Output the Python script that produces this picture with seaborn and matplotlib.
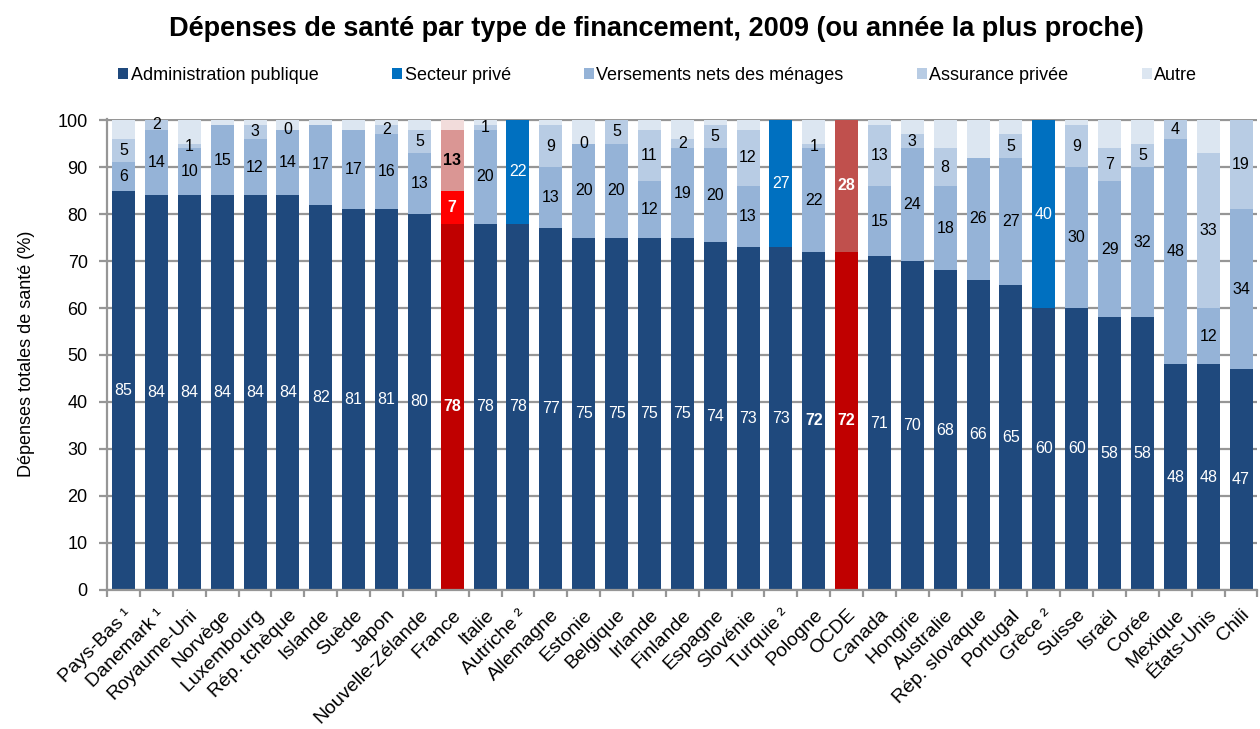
import numpy as np
import pandas as pd
import matplotlib
matplotlib.use("Agg")
import matplotlib.pyplot as plt
import seaborn as sns
from matplotlib.patches import Patch

n = np.nan
countries = ["Pays-Bas ¹", "Danemark ¹", "Royaume-Uni", "Norvège", "Luxembourg",
             "Rép. tchèque", "Islande", "Suède", "Japon", "Nouvelle-Zélande",
             "France", "Italie", "Autriche ²", "Allemagne", "Estonie", "Belgique",
             "Irlande", "Finlande", "Espagne", "Slovénie", "Turquie ²", "Pologne",
             "OCDE", "Canada", "Hongrie", "Australie", "Rép. slovaque", "Portugal",
             "Grèce ²", "Suisse", "Israël", "Corée", "Mexique", "États-Unis", "Chili"]

public = [85, 84, 84, 84, 84, 84, 82, 81, 81, 80, 78, 78, 78, 77, 75, 75, 75, 75,
          74, 73, 73, 72, 72, 71, 70, 68, 66, 65, 60, 60, 58, 58, 48, 48, 47]
private = [n, n, n, n, n, n, n, n, n, n, n, n, 22, n, n, n, n, n,
           n, n, 27, n, 28, n, n, n, n, n, 40, n, n, n, n, n, n]
households = [6, 14, 10, 15, 12, 14, 17, 17, 16, 13, 7, 20, n, 13, 20, 20, 12, 19,
              20, 13, n, 22, n, 15, 24, 18, 26, 27, n, 30, 29, 32, 48, 12, 34]
insurance = [5, 2, 1, n, 3, 0, n, n, 2, 5, 13, 1, n, 9, 0, 5, 11, 2,
             5, 12, n, 1, n, 13, 3, 8, n, 5, n, 9, 7, 5, 4, 33, 19]
other = [4, 0, 5, 1, 1, 2, 1, 2, 1, 2, 2, 1, 0, 1, 5, 0, 2, 4,
         1, 2, 0, 5, 0, 1, 3, 6, 8, 3, 0, 1, 6, 5, 0, 7, 0]

series_names = ["Administration publique", "Secteur privé",
                "Versements nets des ménages", "Assurance privée", "Autre"]
series_colors = ["#1F497D", "#0070C0", "#95B3D7", "#B8CCE4", "#DCE6F1"]
label_colors = ["white", "white", "black", "black", None]
france_colors = ["#C00000", "#C00000", "#FF0000", "#DA9694", "#F2DCDB"]
ocde_colors = ["#C00000", "#C0504D", "#FF0000", "#DA9694", "#F2DCDB"]

df = pd.DataFrame({"pays": countries, "public": public, "private": private,
                   "households": households, "insurance": insurance, "other": other})
layers = ["public", "private", "households", "insurance", "other"]

sns.set_style("white")
plt.rcParams["font.family"] = ["Liberation Sans", "DejaVu Sans"]
plt.rcParams["text.color"] = "black"
plt.rcParams["axes.labelcolor"] = "black"
plt.rcParams["xtick.color"] = "black"
plt.rcParams["ytick.color"] = "black"

fig = plt.figure(figsize=(12.6, 7.29), dpi=100)
ax = fig.add_axes([0.085, 0.191, 0.913, 0.646])

i_fr = countries.index("France")
i_oc = countries.index("OCDE")
i_pl = countries.index("Pologne")

bottom = np.zeros(len(countries))
for k, col in enumerate(layers):
    vals = df[col].to_numpy(dtype=float)
    h = np.nan_to_num(vals)
    sns.barplot(x=df["pays"], y=h, bottom=bottom, color=series_colors[k],
                width=0.7, errorbar=None, linewidth=0, edgecolor="none",
                saturation=1, ax=ax, zorder=2)
    cont = ax.containers[-1]
    cont.patches[i_fr].set_facecolor(france_colors[k])
    cont.patches[i_oc].set_facecolor(ocde_colors[k])
    if label_colors[k] is not None:
        for i, v in enumerate(vals):
            if np.isnan(v):
                continue
            c = label_colors[k]
            bold = False
            if i in (i_fr, i_oc):
                bold = True
                c = "white" if k < 3 else "black"
            if i == i_pl and k == 0:
                bold = True
            ax.text(i, bottom[i] + h[i] / 2, f"{v:.0f}", ha="center", va="center",
                    fontsize=11.5, color=c, fontweight="bold" if bold else "normal",
                    zorder=3)
    bottom = bottom + h

ax.set_xlim(-0.5, len(countries) - 0.5)
ax.set_ylim(0, 100.3)
ax.set_yticks(np.arange(0, 101, 10))
ax.yaxis.grid(True, color="#969696", linewidth=1.6)
ax.set_axisbelow(True)
for s in ["top", "right"]:
    ax.spines[s].set_visible(False)
for s in ["left", "bottom"]:
    ax.spines[s].set_color("#969696")
    ax.spines[s].set_linewidth(1.6)

ax.set_xticks(range(len(countries)))
ax.set_xticklabels(countries, rotation=45, ha="right", rotation_mode="anchor",
                   fontsize=14)
ax.set_xticks(np.arange(-0.5, len(countries), 1), minor=True)
ax.tick_params(axis="x", which="major", length=0, pad=12)
ax.tick_params(axis="x", which="minor", length=5, width=1.6, color="#969696",
               direction="out", bottom=True)
ax.tick_params(axis="y", length=6, width=1.6, color="#969696", labelcolor="black",
               direction="out", labelsize=13, left=True, pad=8)
ax.set_xlabel("")
ax.set_ylabel("Dépenses totales de santé (%)", fontsize=13, labelpad=16)

fig.suptitle("Dépenses de santé par type de financement, 2009 (ou année la plus proche)",
             fontsize=19.5, fontweight="bold", x=0.521, y=0.978, color="black")

handles = [Patch(facecolor=c, edgecolor="none") for c in series_colors]
fig.legend(handles, series_names, loc="center left", bbox_to_anchor=(0.094, 0.897),
           ncol=5, frameon=False, fontsize=13, handlelength=0.55, handleheight=0.55,
           handletextpad=0.15, columnspacing=4.05, borderaxespad=0, borderpad=0)

fig.savefig("out.png", dpi=100)
